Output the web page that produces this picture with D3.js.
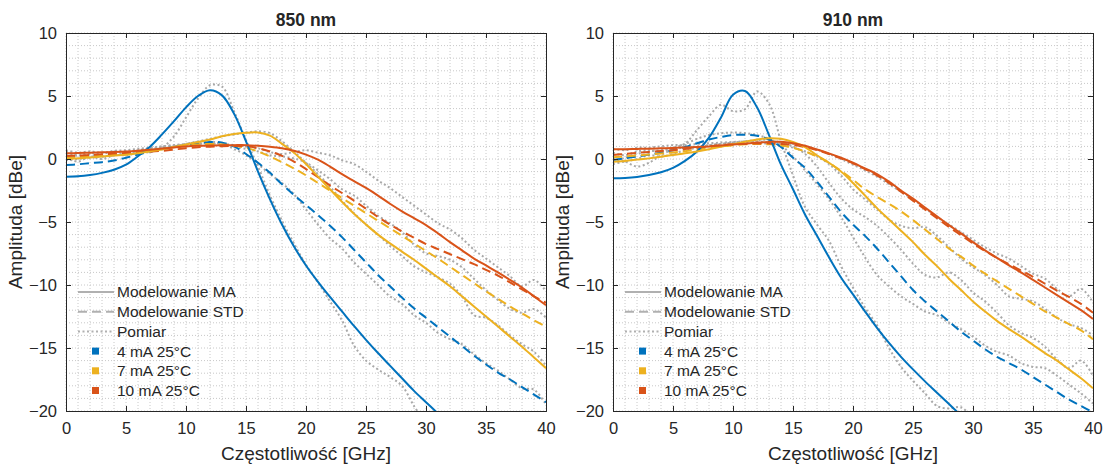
<!DOCTYPE html>
<meta charset="utf-8">
<script src="https://d3js.org/d3.v7.min.js"></script>
<style>
  body { margin: 0; background: #fff; }
  text { font-family: "Liberation Sans", Arial, Helvetica, sans-serif; fill: #262626; }
</style>
<div id="my_dataviz"></div>
<script>

// frequency grid [GHz]
const freq = [0,1,2,3,4,5,6,7,8,9,10,11,12,13,14,15,16,17,18,19,20,
              21,22,23,24,25,26,27,28,29,30,31,32,33,34,35,36,37,38,39,40];

const xTicks = [0,5,10,15,20,25,30,35,40];
const yTicks = [-20,-15,-10,-5,0,5,10];
const currents = ["4 mA 25°C", "7 mA 25°C", "10 mA 25°C"];
const styleLabels = ["Modelowanie MA", "Modelowanie STD", "Pomiar"];

// ---- 850 nm ----
const ma850_4  = [-1.4,-1.37,-1.27,-1.1,-0.85,-0.45,0.22,0.98,1.95,3.0,4.1,5.0,5.45,5.05,3.6,1.4,-1.0,-3.2,-5.2,-6.95,-8.45,-9.75,-10.95,-12.1,-13.25,-14.35,-15.4,-16.4,-17.4,-18.4,-19.3,-20.2,null,null,null,null,null,null,null,null,null];
const std850_4 = [-0.48,-0.42,-0.33,-0.25,-0.12,0.1,0.35,0.6,0.8,0.95,1.1,1.25,1.35,1.3,1.0,0.4,-0.3,-1.1,-2.0,-2.85,-3.65,-4.45,-5.3,-6.2,-7.2,-8.2,-9.2,-10.1,-11.0,-11.85,-12.6,-13.35,-14.1,-14.85,-15.6,-16.3,-16.95,-17.5,-18.1,-18.7,-19.3];
const ma850_7  = [0.0,0.05,0.12,0.2,0.27,0.33,0.45,0.6,0.75,0.95,1.15,1.35,1.55,1.8,1.98,2.08,2.1,1.85,1.2,0.5,-0.4,-1.4,-2.4,-3.4,-4.35,-5.2,-6.0,-6.7,-7.35,-8.0,-8.7,-9.4,-10.1,-10.9,-11.7,-12.5,-13.3,-14.1,-14.9,-15.75,-16.6];
const std850_7 = [0.13,0.16,0.2,0.27,0.35,0.45,0.55,0.67,0.8,0.92,1.05,1.15,1.2,1.15,1.05,0.9,0.6,0.2,-0.25,-0.75,-1.3,-1.9,-2.5,-3.1,-3.7,-4.3,-4.9,-5.5,-6.1,-6.7,-7.3,-7.9,-8.55,-9.2,-9.85,-10.5,-11.1,-11.7,-12.25,-12.8,-13.3];
const ma850_10  = [0.45,0.47,0.5,0.53,0.56,0.6,0.66,0.74,0.83,0.92,1.0,1.05,1.08,1.1,1.1,1.1,1.05,0.97,0.85,0.65,0.35,-0.05,-0.6,-1.2,-1.75,-2.3,-2.9,-3.55,-4.15,-4.7,-5.25,-5.9,-6.6,-7.25,-7.9,-8.45,-9.0,-9.6,-10.2,-10.9,-11.6];
const std850_10 = [0.24,0.27,0.32,0.37,0.42,0.48,0.53,0.58,0.65,0.75,0.85,0.93,0.98,1.02,1.03,1.02,0.85,0.6,0.25,-0.2,-0.8,-1.45,-2.1,-2.7,-3.3,-3.95,-4.6,-5.2,-5.75,-6.25,-6.75,-7.15,-7.55,-7.95,-8.35,-8.8,-9.25,-9.8,-10.35,-10.9,-11.4];
// measurements (Pomiar)
const meas850_a = [0.4,0.25,0.35,0.2,0.35,0.35,0.5,0.55,0.9,1.8,3.3,4.8,5.85,5.75,3.8,1.5,-0.6,-2.9,-4.9,-6.7,-8.4,-9.8,-11.3,-12.8,-14.8,-16.0,-16.7,-17.3,-18.0,-19.6,-21.0,null,null,null,null,null,null,null,null,null,null];
const meas850_b = [-0.1,0.0,0.1,0.2,0.3,0.5,0.6,0.8,1.0,1.1,1.2,1.35,1.4,1.2,0.8,0.3,-0.4,-1.2,-1.9,-2.8,-4.0,-5.2,-6.3,-7.1,-8.2,-9.1,-10.0,-10.9,-11.5,-12.4,-13.0,-13.8,-14.3,-14.7,-15.5,-16.2,-16.8,-17.5,-18.2,-18.3,-19.5];
const meas850_c = [0.1,-0.2,0.2,0.0,0.3,0.3,0.5,0.7,0.8,1.0,1.2,1.4,1.6,1.8,1.95,2.1,2.2,2.05,1.4,0.6,-0.3,-1.2,-2.2,-3.3,-4.3,-5.2,-6.0,-6.9,-7.7,-8.5,-9.0,-9.4,-9.9,-10.9,-12.4,-12.6,-13.2,-14.0,-14.7,-15.3,-16.4];
const meas850_d = [0.6,0.3,0.5,0.4,0.6,0.5,0.7,0.8,0.9,1.0,1.1,1.2,1.3,1.2,1.0,0.8,0.6,0.3,0.2,0.05,-0.3,-0.9,-1.6,-2.4,-2.9,-3.7,-4.5,-5.1,-5.8,-6.8,-7.5,-7.7,-8.0,-8.6,-9.5,-10.4,-11.2,-11.9,-12.2,-11.9,-12.6];
const meas850_e = [0.7,0.5,0.6,0.5,0.65,0.7,0.8,0.9,1.0,1.1,1.15,1.2,1.2,1.2,1.1,1.0,0.85,0.55,0.4,0.55,0.7,0.5,0.3,-0.1,-0.4,-1.0,-1.7,-2.3,-3.0,-3.7,-4.4,-5.1,-5.6,-6.3,-7.2,-7.9,-8.6,-9.3,-10.1,-9.6,-10.5];

// ---- 910 nm ----
const ma910_4  = [-1.53,-1.5,-1.42,-1.27,-1.05,-0.7,-0.15,0.6,1.7,3.3,5.1,5.4,4.1,1.9,-0.45,-2.4,-4.4,-6.1,-7.8,-9.4,-10.75,-12.1,-13.4,-14.6,-15.7,-16.7,-17.65,-18.55,-19.45,-20.35,null,null,null,null,null,null,null,null,null,null,null];
const std910_4 = [-0.08,0.05,0.2,0.35,0.5,0.7,0.95,1.25,1.55,1.75,1.9,1.92,1.85,1.55,0.95,0.1,-0.7,-1.8,-3.0,-4.2,-5.2,-6.1,-7.1,-8.2,-9.3,-10.4,-11.3,-12.1,-12.9,-13.7,-14.4,-15.1,-15.7,-16.2,-16.7,-17.3,-17.9,-18.5,-19.1,-19.6,-20.1];
const ma910_7  = [-0.21,-0.15,-0.05,0.05,0.18,0.32,0.45,0.6,0.77,0.97,1.17,1.37,1.55,1.65,1.6,1.35,0.95,0.3,-0.3,-1.0,-1.9,-2.9,-3.9,-4.8,-5.7,-6.6,-7.6,-8.5,-9.5,-10.4,-11.3,-12.1,-12.85,-13.5,-14.1,-14.75,-15.4,-16.0,-16.7,-17.4,-18.2];
const std910_7 = [0.13,0.2,0.28,0.36,0.44,0.52,0.62,0.75,0.88,1.0,1.1,1.17,1.19,1.17,1.1,0.9,0.6,0.2,-0.3,-0.95,-1.65,-2.4,-3.0,-3.55,-4.15,-4.85,-5.6,-6.35,-7.1,-7.75,-8.45,-9.1,-9.7,-10.3,-10.9,-11.5,-12.1,-12.6,-13.1,-13.6,-14.3];
const ma910_10  = [0.77,0.78,0.8,0.82,0.85,0.88,0.92,0.96,1.0,1.08,1.15,1.22,1.3,1.35,1.37,1.25,1.05,0.75,0.45,0.1,-0.3,-0.75,-1.2,-1.8,-2.5,-3.15,-3.85,-4.55,-5.25,-5.9,-6.6,-7.25,-7.85,-8.45,-9.0,-9.6,-10.2,-10.8,-11.4,-12.0,-12.7];
const std910_10 = [0.32,0.4,0.48,0.56,0.63,0.7,0.8,0.9,1.0,1.1,1.17,1.2,1.23,1.24,1.2,1.12,0.95,0.7,0.4,0.05,-0.35,-0.8,-1.3,-1.9,-2.6,-3.3,-4.0,-4.7,-5.4,-6.05,-6.7,-7.3,-7.85,-8.35,-8.85,-9.35,-9.9,-10.45,-10.95,-11.5,-12.2];
const meas910_a = [0.1,-0.2,-0.6,-0.3,0.3,0.8,1.2,2.3,3.4,4.3,3.8,3.95,5.35,4.4,1.4,-1.3,-3.8,-5.2,-6.5,-8.5,-10.2,-11.8,-13.2,-15.0,-16.5,-17.6,-18.6,-19.6,-19.8,-19.7,-20.6,null,null,null,null,null,null,null,null,null,null];
const meas910_b = [-0.2,0.1,0.4,0.6,0.7,0.9,1.2,1.6,1.9,2.05,2.1,2.05,1.9,1.6,1.1,0.2,-0.9,-2.0,-3.2,-4.6,-6.2,-7.8,-9.2,-10.1,-10.9,-11.5,-12.1,-12.4,-13.0,-13.5,-14.1,-14.8,-15.3,-15.6,-16.2,-16.5,-16.6,-17.2,-17.9,-18.6,-19.4];
const meas910_c = [-0.4,-0.2,0.0,0.3,0.2,0.4,0.7,0.9,1.1,1.2,1.3,1.4,1.5,1.5,1.3,1.0,0.4,-0.6,-1.9,-3.1,-4.0,-4.6,-5.3,-6.2,-7.2,-8.3,-9.2,-9.4,-9.0,-9.6,-10.6,-11.3,-12.2,-13.2,-13.8,-14.2,-14.9,-15.9,-16.6,-16.0,-17.2];
const meas910_d = [0.5,0.3,0.6,0.7,0.6,0.8,0.9,1.0,1.1,1.2,1.3,1.35,1.3,1.2,1.1,0.9,0.6,0.2,-0.4,-1.3,-2.4,-3.2,-4.0,-4.8,-5.3,-5.5,-5.4,-6.1,-7.0,-7.9,-8.6,-9.2,-10.0,-10.9,-11.1,-11.3,-11.9,-12.6,-13.1,-13.4,-14.0];
const meas910_e = [0.8,0.7,0.9,0.9,1.0,1.1,1.1,1.2,1.25,1.3,1.35,1.4,1.4,1.35,1.3,1.2,1.0,0.75,0.4,0.0,-0.45,-0.9,-1.4,-2.0,-2.6,-3.2,-3.9,-4.6,-5.2,-5.8,-6.4,-7.0,-7.5,-7.9,-8.5,-9.1,-9.5,-10.3,-10.9,-10.3,-11.4];

const colors = ["#0072BD", "#EDB120", "#D95319"];
const gray = "#a9a9a9";

var panels = [
  { title: "850 nm", left: 66,
    ma: [ma850_4, ma850_7, ma850_10], std: [std850_4, std850_7, std850_10],
    meas: [meas850_a, meas850_b, meas850_c, meas850_d, meas850_e] },
  { title: "910 nm", left: 613,
    ma: [ma910_4, ma910_7, ma910_10], std: [std910_4, std910_7, std910_10],
    meas: [meas910_a, meas910_b, meas910_c, meas910_d, meas910_e] }
];

var W = 1109, H = 464;
var marginTop = 33, pw = 480, ph = 378;

var svg = d3.select("#my_dataviz")
  .append("svg")
    .attr("width", W)
    .attr("height", H);

var x = d3.scaleLinear().domain([0, 40]).range([0, pw]);
var y = d3.scaleLinear().domain([-20, 10]).range([ph, 0]);

var line = d3.line()
  .defined(function(d) { return d[1] !== null; })
  .x(function(d) { return x(d[0]); })
  .y(function(d) { return y(d[1]); })
  .curve(d3.curveCatmullRom.alpha(0.5));

function pts(vals) {
  return freq.map(function(f, i) { return [f, vals[i]]; });
}

panels.forEach(function(p, pi) {
  var g = svg.append("g").attr("transform", "translate(" + p.left + "," + marginTop + ")");

  // grid (major + minor, dotted)
  var minorX = x.ticks(40), minorY = y.ticks(30);
  g.selectAll(".gx").data(minorX).enter().append("line")
    .attr("x1", function(d) { return x(d); }).attr("x2", function(d) { return x(d); })
    .attr("y1", 0).attr("y2", ph)
    .attr("stroke", "#c8c8c8").attr("stroke-width", 1).attr("stroke-dasharray", "1,2");
  g.selectAll(".gy").data(minorY).enter().append("line")
    .attr("y1", function(d) { return y(d); }).attr("y2", function(d) { return y(d); })
    .attr("x1", 0).attr("x2", pw)
    .attr("stroke", "#c8c8c8").attr("stroke-width", 1).attr("stroke-dasharray", "1,2");

  // clip
  var clipId = "clip" + pi;
  g.append("clipPath").attr("id", clipId)
    .append("rect").attr("width", pw).attr("height", ph);
  var plot = g.append("g").attr("clip-path", "url(#" + clipId + ")");

  // measurements
  p.meas.forEach(function(vals) {
    plot.append("path").datum(pts(vals))
      .attr("d", line).attr("fill", "none")
      .attr("stroke", gray).attr("stroke-width", 2)
      .attr("stroke-dasharray", "2,2.5");
  });
  // STD models (dashed)
  p.std.forEach(function(vals, i) {
    plot.append("path").datum(pts(vals))
      .attr("d", line).attr("fill", "none")
      .attr("stroke", colors[i]).attr("stroke-width", 2)
      .attr("stroke-dasharray", "9,5");
  });
  // MA models (solid)
  p.ma.forEach(function(vals, i) {
    plot.append("path").datum(pts(vals))
      .attr("d", line).attr("fill", "none")
      .attr("stroke", colors[i]).attr("stroke-width", 2);
  });

  // axes, ticks inward on all sides
  var fs = "16.5px";
  var xb = g.append("g").attr("transform", "translate(0," + ph + ")")
    .call(d3.axisBottom(x).tickValues(xTicks).tickSize(-5).tickPadding(11).tickFormat(d3.format("d")));
  var yl = g.append("g")
    .call(d3.axisLeft(y).tickValues(yTicks).tickSize(-5).tickPadding(9).tickFormat(d3.format("d")));
  var xt = g.append("g")
    .call(d3.axisTop(x).tickValues(xTicks).tickSize(-5).tickFormat(""));
  var yr = g.append("g").attr("transform", "translate(" + pw + ",0)")
    .call(d3.axisRight(y).tickValues(yTicks).tickSize(-5).tickFormat(""));
  [xb, yl, xt, yr].forEach(function(a) {
    a.select(".domain").attr("stroke", "#262626").attr("stroke-width", 1);
    a.selectAll(".tick line").attr("stroke", "#262626");
    a.selectAll(".tick text").attr("fill", "#262626").style("font-size", fs)
      .style("font-family", "'Liberation Sans', Arial, sans-serif");
  });

  // title
  g.append("text").attr("x", pw / 2).attr("y", -7)
    .attr("text-anchor", "middle")
    .style("font-size", "17.5px").style("font-weight", "bold")
    .text(p.title);

  // axis labels
  g.append("text").attr("x", pw / 2).attr("y", ph + 49)
    .attr("text-anchor", "middle").style("font-size", "19px")
    .text("Częstotliwość [GHz]");
  g.append("text")
    .attr("transform", "translate(-44," + (ph / 2) + ") rotate(-90)")
    .attr("text-anchor", "middle").style("font-size", "19px")
    .text("Amplituda [dBe]");

  // legend (no box)
  var lg = g.append("g").attr("transform", "translate(0,259)");
  var dashes = [null, "9,5", "2,2.5"];
  styleLabels.forEach(function(lbl, i) {
    var yy = i * 19.7;
    lg.append("line").attr("x1", 12).attr("x2", 48).attr("y1", yy).attr("y2", yy)
      .attr("stroke", "#b0b0b0").attr("stroke-width", 2)
      .attr("stroke-dasharray", dashes[i]);
    lg.append("text").attr("x", 51).attr("y", yy).attr("dy", "0.35em")
      .style("font-size", "15.5px").text(lbl);
  });
  currents.forEach(function(lbl, i) {
    var yy = (i + 3) * 19.7;
    lg.append("rect").attr("x", 26).attr("y", yy - 3.5).attr("width", 7).attr("height", 7)
      .attr("fill", colors[i]);
    lg.append("text").attr("x", 51).attr("y", yy).attr("dy", "0.35em")
      .style("font-size", "15.5px").text(lbl);
  });
});

</script>
